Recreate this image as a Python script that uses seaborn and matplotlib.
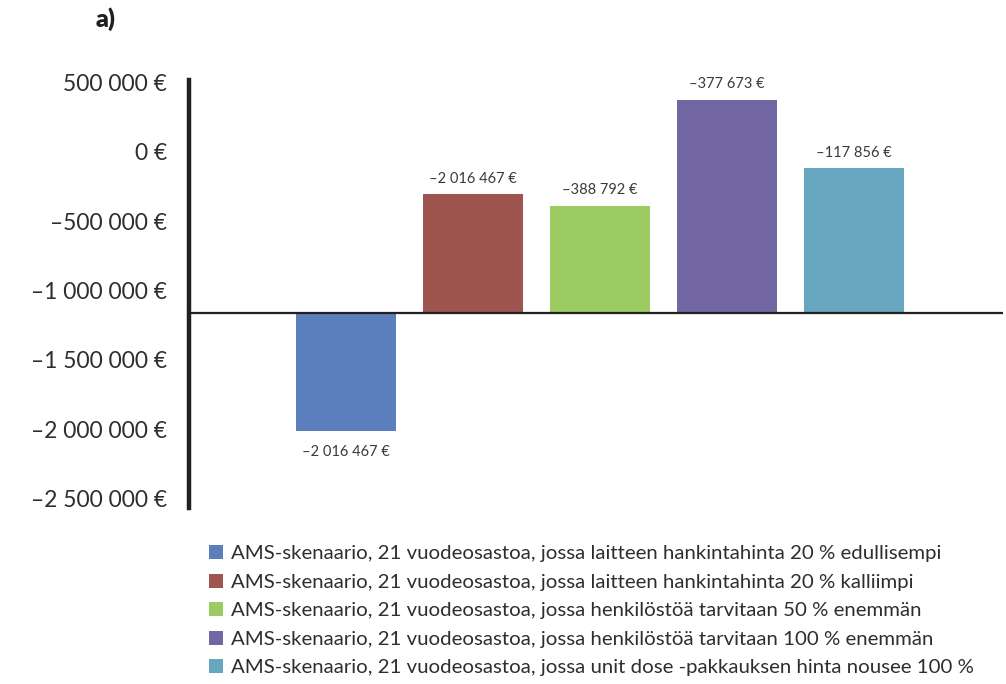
import matplotlib
matplotlib.use("Agg")
import matplotlib.pyplot as plt
import seaborn as sns
import pandas as pd

# Scenario data
scenarios = [
    "AMS-skenaario, 21 vuodeosastoa, jossa laitteen hankintahinta 20 % edullisempi",
    "AMS-skenaario, 21 vuodeosastoa, jossa laitteen hankintahinta 20 % kalliimpi",
    "AMS-skenaario, 21 vuodeosastoa, jossa henkilöstöä tarvitaan 50 % enemmän",
    "AMS-skenaario, 21 vuodeosastoa, jossa henkilöstöä tarvitaan 100 % enemmän",
    "AMS-skenaario, 21 vuodeosastoa, jossa unit dose -pakkauksen hinta nousee 100 %",
]
values = [-2016467, -307000, -388792, 377673, -117856]
value_labels = ["–2 016 467 €", "–2 016 467 €", "–388 792 €", "–377 673 €", "–117 856 €"]
colors = ["#5B7FBC", "#9E5550", "#9CCB64", "#7267A2", "#67A6BF"]
baseline = -1162000
y_ticks = [500000, 0, -500000, -1000000, -1500000, -2000000, -2500000]

df = pd.DataFrame({"skenaario": scenarios, "arvo": values})
df["korkeus"] = df["arvo"] - baseline

sns.set_theme(style="white")
plt.rcParams["font.family"] = ["Lato", "DejaVu Sans"]
ink = "#231F20"
text_ink = "#2E2E2E"

fig = plt.figure(figsize=(10.06, 6.84), dpi=100)
ax = fig.add_axes([189 / 1006, 1 - 508 / 684, 814 / 1006, 428 / 684])

sns.barplot(data=df, x="skenaario", y="korkeus", hue="skenaario",
            palette=colors, width=0.787, bottom=baseline, ax=ax,
            legend=False, saturation=1, linewidth=0)

ax.set_xlim(-1.236, 5.173)
ax.set_ylim(-2570000, 519500)

# Axes styling
for side in ["top", "right", "bottom"]:
    ax.spines[side].set_visible(False)
ax.spines["left"].set_linewidth(3.2)
ax.spines["left"].set_color(ink)
ax.axhline(baseline, color=ink, lw=1.6, zorder=3)

ax.set_xticks([])
ax.set_xlabel("")
ax.set_ylabel("")
ax.set_yticks(y_ticks)
ax.set_yticklabels([f"{v:,}".replace(",", " ").replace("-", "–") + " €" for v in y_ticks],
                   fontsize=16.5, color=text_ink)
ax.tick_params(axis="y", length=0, pad=16)

# Value labels
for i, (v, lab) in enumerate(zip(values, value_labels)):
    if v >= baseline:
        ax.annotate(lab, (i, v), xytext=(0, 6), textcoords="offset points",
                    ha="center", va="bottom", fontsize=10.5, color="#3a3a3a")
    else:
        ax.annotate(lab, (i, v), xytext=(0, -10), textcoords="offset points",
                    ha="center", va="top", fontsize=10.5, color="#3a3a3a")

# Legend
handles = [c.patches[0] for c in ax.containers]
leg = fig.legend(handles, scenarios, loc="upper left",
                 bbox_to_anchor=(209 / 1006, 1 - 545 / 684),
                 frameon=False, fontsize=14.7, handlelength=0.7, handleheight=0.7,
                 handletextpad=0.4, labelspacing=0.55, borderaxespad=0, borderpad=0)
for t in leg.get_texts():
    t.set_color(text_ink)

fig.text(106 / 1006, 1 - 19 / 684, "a)", ha="center", va="center",
         fontsize=18, fontweight="heavy", color=ink)

fig.savefig("out.png", dpi=100)
